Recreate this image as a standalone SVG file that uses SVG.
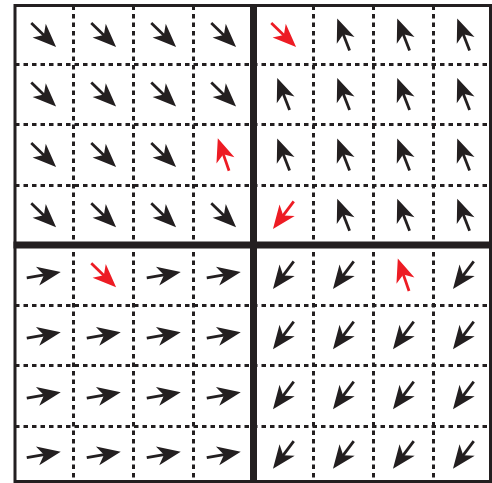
<svg xmlns="http://www.w3.org/2000/svg" xmlns:xlink="http://www.w3.org/1999/xlink" width="492" height="483" viewBox="0 0 492 483">
<style>
.dot{stroke:#231f20;stroke-width:3;stroke-dasharray:4.5 4;fill:none}
.thick{stroke:#231f20;stroke-width:7;fill:none}
.frame{stroke:#231f20;stroke-width:3;fill:none}
.k{color:#231f20}
.r{color:#ed1c24}
</style>
<defs>
<g id="arw">
<path d="M-17,0 H2" stroke="currentColor" stroke-width="2.8" fill="none"/>
<path d="M17.5,0 L-6,-9.5 L0.5,0 L-6,9.5 Z" fill="currentColor"/>
</g>
</defs>
<rect x="0" y="0" width="492" height="483" fill="#ffffff"/>
<g id="grid">
<g id="dotted">
<path class="dot" d="M73.5,5.5V481.5M133.5,5.5V481.5M193.5,5.5V481.5M313.5,5.5V481.5M373.5,5.5V481.5M433.5,5.5V481.5"/>
<path class="dot" d="M15,64.5H490.5M15,124.5H490.5M15,185.5H490.5M15,305.5H490.5M15,365.5H490.5M15,426.5H490.5"/>
</g>
<path id="dividers" class="thick" d="M253.5,4V483M13.5,245H492"/>
<rect id="frame" class="frame" x="15" y="5.5" width="475.5" height="476"/>
</g>
<g id="arrows">
<!-- row 0 -->
<g id="n-0-0"><use xlink:href="#arw" class="k" transform="translate(43.5,34.75) rotate(44)"/></g>
<g id="n-0-1"><use xlink:href="#arw" class="k" transform="translate(103.5,34.75) rotate(44)"/></g>
<g id="n-0-2"><use xlink:href="#arw" class="k" transform="translate(163.5,34.75) rotate(44)"/></g>
<g id="n-0-3"><use xlink:href="#arw" class="k" transform="translate(223.5,34.75) rotate(44)"/></g>
<g id="n-0-4"><use xlink:href="#arw" class="r" transform="translate(283.5,34.75) rotate(44)"/></g>
<g id="n-0-5"><use xlink:href="#arw" class="k" transform="translate(343.5,34.75) rotate(-111)"/></g>
<g id="n-0-6"><use xlink:href="#arw" class="k" transform="translate(403.5,34.75) rotate(-111)"/></g>
<g id="n-0-7"><use xlink:href="#arw" class="k" transform="translate(463.5,34.75) rotate(-111)"/></g>
<!-- row 1 -->
<g id="n-1-0"><use xlink:href="#arw" class="k" transform="translate(43.5,94.25) rotate(44)"/></g>
<g id="n-1-1"><use xlink:href="#arw" class="k" transform="translate(103.5,94.25) rotate(44)"/></g>
<g id="n-1-2"><use xlink:href="#arw" class="k" transform="translate(163.5,94.25) rotate(44)"/></g>
<g id="n-1-3"><use xlink:href="#arw" class="k" transform="translate(223.5,94.25) rotate(44)"/></g>
<g id="n-1-4"><use xlink:href="#arw" class="k" transform="translate(283.5,94.25) rotate(-111)"/></g>
<g id="n-1-5"><use xlink:href="#arw" class="k" transform="translate(343.5,94.25) rotate(-111)"/></g>
<g id="n-1-6"><use xlink:href="#arw" class="k" transform="translate(403.5,94.25) rotate(-111)"/></g>
<g id="n-1-7"><use xlink:href="#arw" class="k" transform="translate(463.5,94.25) rotate(-111)"/></g>
<!-- row 2 -->
<g id="n-2-0"><use xlink:href="#arw" class="k" transform="translate(43.5,154.75) rotate(44)"/></g>
<g id="n-2-1"><use xlink:href="#arw" class="k" transform="translate(103.5,154.75) rotate(44)"/></g>
<g id="n-2-2"><use xlink:href="#arw" class="k" transform="translate(163.5,154.75) rotate(44)"/></g>
<g id="n-2-3"><use xlink:href="#arw" class="r" transform="translate(223.5,154.75) rotate(-109)"/></g>
<g id="n-2-4"><use xlink:href="#arw" class="k" transform="translate(283.5,154.75) rotate(-111)"/></g>
<g id="n-2-5"><use xlink:href="#arw" class="k" transform="translate(343.5,154.75) rotate(-111)"/></g>
<g id="n-2-6"><use xlink:href="#arw" class="k" transform="translate(403.5,154.75) rotate(-111)"/></g>
<g id="n-2-7"><use xlink:href="#arw" class="k" transform="translate(463.5,154.75) rotate(-111)"/></g>
<!-- row 3 -->
<g id="n-3-0"><use xlink:href="#arw" class="k" transform="translate(43.5,215) rotate(44)"/></g>
<g id="n-3-1"><use xlink:href="#arw" class="k" transform="translate(103.5,215) rotate(44)"/></g>
<g id="n-3-2"><use xlink:href="#arw" class="k" transform="translate(163.5,215) rotate(44)"/></g>
<g id="n-3-3"><use xlink:href="#arw" class="k" transform="translate(223.5,215) rotate(44)"/></g>
<g id="n-3-4"><use xlink:href="#arw" class="r" transform="translate(283.5,215) rotate(127)"/></g>
<g id="n-3-5"><use xlink:href="#arw" class="k" transform="translate(343.5,215) rotate(-111)"/></g>
<g id="n-3-6"><use xlink:href="#arw" class="k" transform="translate(403.5,215) rotate(-111)"/></g>
<g id="n-3-7"><use xlink:href="#arw" class="k" transform="translate(463.5,215) rotate(-111)"/></g>
<!-- row 4 -->
<g id="n-4-0"><use xlink:href="#arw" class="k" transform="translate(43.5,275) rotate(-10)"/></g>
<g id="n-4-1"><use xlink:href="#arw" class="r" transform="translate(103.5,275) rotate(44)"/></g>
<g id="n-4-2"><use xlink:href="#arw" class="k" transform="translate(163.5,275) rotate(-10)"/></g>
<g id="n-4-3"><use xlink:href="#arw" class="k" transform="translate(223.5,275) rotate(-10)"/></g>
<g id="n-4-4"><use xlink:href="#arw" class="k" transform="translate(283.5,275) rotate(127)"/></g>
<g id="n-4-5"><use xlink:href="#arw" class="k" transform="translate(343.5,275) rotate(127)"/></g>
<g id="n-4-6"><use xlink:href="#arw" class="r" transform="translate(403.5,275) rotate(-109)"/></g>
<g id="n-4-7"><use xlink:href="#arw" class="k" transform="translate(463.5,275) rotate(127)"/></g>
<!-- row 5 -->
<g id="n-5-0"><use xlink:href="#arw" class="k" transform="translate(43.5,335.25) rotate(-10)"/></g>
<g id="n-5-1"><use xlink:href="#arw" class="k" transform="translate(103.5,335.25) rotate(-10)"/></g>
<g id="n-5-2"><use xlink:href="#arw" class="k" transform="translate(163.5,335.25) rotate(-10)"/></g>
<g id="n-5-3"><use xlink:href="#arw" class="k" transform="translate(223.5,335.25) rotate(-10)"/></g>
<g id="n-5-4"><use xlink:href="#arw" class="k" transform="translate(283.5,335.25) rotate(127)"/></g>
<g id="n-5-5"><use xlink:href="#arw" class="k" transform="translate(343.5,335.25) rotate(127)"/></g>
<g id="n-5-6"><use xlink:href="#arw" class="k" transform="translate(403.5,335.25) rotate(127)"/></g>
<g id="n-5-7"><use xlink:href="#arw" class="k" transform="translate(463.5,335.25) rotate(127)"/></g>
<!-- row 6 -->
<g id="n-6-0"><use xlink:href="#arw" class="k" transform="translate(43.5,395.25) rotate(-10)"/></g>
<g id="n-6-1"><use xlink:href="#arw" class="k" transform="translate(103.5,395.25) rotate(-10)"/></g>
<g id="n-6-2"><use xlink:href="#arw" class="k" transform="translate(163.5,395.25) rotate(-10)"/></g>
<g id="n-6-3"><use xlink:href="#arw" class="k" transform="translate(223.5,395.25) rotate(-10)"/></g>
<g id="n-6-4"><use xlink:href="#arw" class="k" transform="translate(283.5,395.25) rotate(127)"/></g>
<g id="n-6-5"><use xlink:href="#arw" class="k" transform="translate(343.5,395.25) rotate(127)"/></g>
<g id="n-6-6"><use xlink:href="#arw" class="k" transform="translate(403.5,395.25) rotate(127)"/></g>
<g id="n-6-7"><use xlink:href="#arw" class="k" transform="translate(463.5,395.25) rotate(127)"/></g>
<!-- row 7 -->
<g id="n-7-0"><use xlink:href="#arw" class="k" transform="translate(43.5,454.75) rotate(-10)"/></g>
<g id="n-7-1"><use xlink:href="#arw" class="k" transform="translate(103.5,454.75) rotate(-10)"/></g>
<g id="n-7-2"><use xlink:href="#arw" class="k" transform="translate(163.5,454.75) rotate(-10)"/></g>
<g id="n-7-3"><use xlink:href="#arw" class="k" transform="translate(223.5,454.75) rotate(-10)"/></g>
<g id="n-7-4"><use xlink:href="#arw" class="k" transform="translate(283.5,454.75) rotate(127)"/></g>
<g id="n-7-5"><use xlink:href="#arw" class="k" transform="translate(343.5,454.75) rotate(127)"/></g>
<g id="n-7-6"><use xlink:href="#arw" class="k" transform="translate(403.5,454.75) rotate(127)"/></g>
<g id="n-7-7"><use xlink:href="#arw" class="k" transform="translate(463.5,454.75) rotate(127)"/></g>
</g>
</svg>
